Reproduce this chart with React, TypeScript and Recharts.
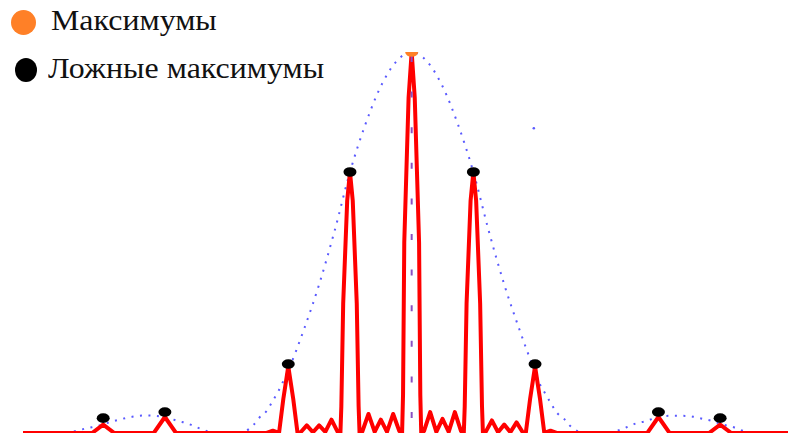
import React from 'react';
import { ComposedChart, Line, Scatter, XAxis, YAxis, ReferenceLine } from 'recharts';

// x in units of grating order (peak spacing), y relative to the central maximum
const redCurve: [number, number][] = [
  [-6.3, 0], [-5.18, 0], [-5, 0.022], [-4.82, 0],
  [-4.18, 0], [-4, 0.042], [-3.82, 0],
  [-2.35, 0], [-2.25, 0.006], [-2.15, 0],
  [-2.08, 0.09], [-2, 0.175], [-1.92, 0.09], [-1.85, 0],
  [-1.8, 0.002], [-1.7, 0.02], [-1.6, 0.002], [-1.5, 0.02], [-1.4, 0.003], [-1.3, 0.035], [-1.2, 0.003],
  [-1.155, 0], [-1.14, 0.07], [-1.11, 0.34], [-1.045, 0.61], [-1, 0.685], [-0.955, 0.61], [-0.89, 0.34], [-0.86, 0.07], [-0.845, 0],
  [-0.8, 0.004], [-0.7, 0.05], [-0.6, 0.003], [-0.5, 0.035], [-0.4, 0.003], [-0.3, 0.05], [-0.2, 0.005],
  [-0.155, 0], [-0.14, 0.1], [-0.12, 0.5], [-0.05, 0.88], [0, 1], [0.05, 0.88], [0.12, 0.5], [0.14, 0.1], [0.155, 0],
  [0.2, 0.005], [0.3, 0.055], [0.4, 0.003], [0.5, 0.037], [0.6, 0.003], [0.7, 0.055], [0.8, 0.005],
  [0.845, 0], [0.86, 0.07], [0.89, 0.34], [0.955, 0.61], [1, 0.685], [1.045, 0.61], [1.11, 0.34], [1.14, 0.07], [1.155, 0],
  [1.2, 0.003], [1.3, 0.033], [1.4, 0.002], [1.5, 0.022], [1.6, 0.002], [1.7, 0.028], [1.8, 0.002],
  [1.85, 0], [1.92, 0.09], [2, 0.175], [2.08, 0.09], [2.15, 0],
  [2.25, 0.006], [2.35, 0],
  [3.82, 0], [4, 0.042], [4.18, 0],
  [4.82, 0], [5, 0.022], [5.18, 0], [6.1, 0],
];

const envelope: [number, number][] = [
  [-6.3, 0], [-5.66, 0], [-5.5, 0.003], [-5.38, 0.008], [-5.25, 0.013], [-5.1, 0.018], [-4.86, 0.03],
  [-4.72, 0.036], [-4.55, 0.042], [-4.35, 0.046], [-4.15, 0.045], [-3.9, 0.037], [-3.78, 0.031],
  [-3.65, 0.026], [-3.5, 0.016], [-3.37, 0.008], [-3.2, 0], [-2.8, 0], [-2.7, 0.004],
  [-2.56, 0.022], [-2.47, 0.04], [-2.36, 0.056], [-2.25, 0.085], [-2.16, 0.11], [-2.07, 0.14], [-2, 0.165],
  [-1.75, 0.27], [-1.5, 0.39], [-1.25, 0.53], [-1, 0.685], [-0.75, 0.81], [-0.5, 0.91], [-0.25, 0.975],
  [0, 1],
  [0.25, 0.975], [0.5, 0.91], [0.75, 0.81], [1, 0.685], [1.25, 0.53], [1.5, 0.39], [1.75, 0.27],
  [2, 0.16], [2.07, 0.131], [2.16, 0.105], [2.25, 0.08], [2.36, 0.052], [2.47, 0.037], [2.56, 0.02],
  [2.7, 0.004], [2.8, 0], [3.2, 0], [3.37, 0.008], [3.5, 0.016], [3.65, 0.026], [3.8, 0.031],
  [3.9, 0.037], [4.18, 0.045], [4.4, 0.045], [4.59, 0.042], [4.72, 0.037], [4.86, 0.032],
  [5.07, 0.021], [5.2, 0.016], [5.33, 0.008], [5.45, 0.002], [5.55, 0], [6.1, 0],
];

const mainMaxima: [number, number][] = [[0, 1]];

const falseMaxima: [number, number][] = [
  [-5, 0.039], [-4, 0.055], [-2, 0.181], [-1, 0.685],
  [1, 0.685], [2, 0.181], [4, 0.055], [5, 0.039],
];

const strayDot: [number, number][] = [[1.98, 0.8]];

const legendItems = [
  { label: 'Максимумы', color: '#ff8027' },
  { label: 'Ложные максимумы', color: '#000000' },
];

const toRows = (pts: [number, number][]) => pts.map(([u, v]) => ({ u, v }));

const Ellipse = (color: string, rx: number, ry: number) =>
  // eslint-disable-next-line @typescript-eslint/no-explicit-any
  (props: any) => <ellipse cx={props.cx} cy={props.cy} rx={rx} ry={ry} fill={color} />;

export default function App() {
  return (
    <div style={{ position: 'absolute', left: 0, top: 0, width: 788, height: 438, background: '#fff' }}>
      <ComposedChart
        width={788}
        height={438}
        margin={{ top: 52, right: 0, bottom: 5, left: 23 }}
      >
        <XAxis dataKey="u" type="number" domain={[-6.3, 6.1]} allowDataOverflow hide />
        <YAxis type="number" domain={[0, 1]} allowDataOverflow hide />
        <Line
          data={toRows(envelope)}
          dataKey="v"
          type="monotone"
          stroke="#5a5aff"
          strokeWidth={2}
          strokeDasharray="2 6.5"
          dot={false}
          isAnimationActive={false}
        />
        <Line
          data={toRows(redCurve)}
          dataKey="v"
          type="linear"
          stroke="#ff0000"
          strokeWidth={4}
          strokeLinejoin="round"
          dot={false}
          isAnimationActive={false}
        />
        <ReferenceLine
          x={0}
          stroke="#8a4fc2"
          strokeWidth={2}
          strokeDasharray="6 29.6"
          strokeDashoffset={20.6}
        />
        <Scatter data={toRows(strayDot)} dataKey="v" shape={Ellipse('#5a5aff', 1.3, 1.3)} isAnimationActive={false} />
        <Scatter data={toRows(falseMaxima)} dataKey="v" shape={Ellipse('#000000', 6.5, 4.8)} isAnimationActive={false} />
        <Scatter data={toRows(mainMaxima)} dataKey="v" shape={Ellipse('#ff8027', 6.5, 4.8)} isAnimationActive={false} />
      </ComposedChart>

      {/* legend */}
      <div style={{ position: 'absolute', left: 0, top: 0 }}>
        {legendItems.map((item, i) => (
          <div key={item.label}>
            <span
              style={{
                position: 'absolute',
                left: i === 0 ? 10.5 : 14.5,
                top: i === 0 ? 10 : 57.5,
                width: i === 0 ? 25 : 22,
                height: i === 0 ? 25 : 24,
                borderRadius: '50%',
                background: item.color,
              }}
            />
            <span
              style={{
                position: 'absolute',
                left: i === 0 ? 51 : 48,
                top: i === 0 ? 0 : 48,
                fontFamily: '"Liberation Serif", "Times New Roman", serif',
                fontSize: 29,
                lineHeight: '40px',
                color: '#111',
                whiteSpace: 'nowrap',
                transform: 'scaleX(1.1)',
                transformOrigin: 'left center',
              }}
            >
              {item.label}
            </span>
          </div>
        ))}
      </div>
    </div>
  );
}
